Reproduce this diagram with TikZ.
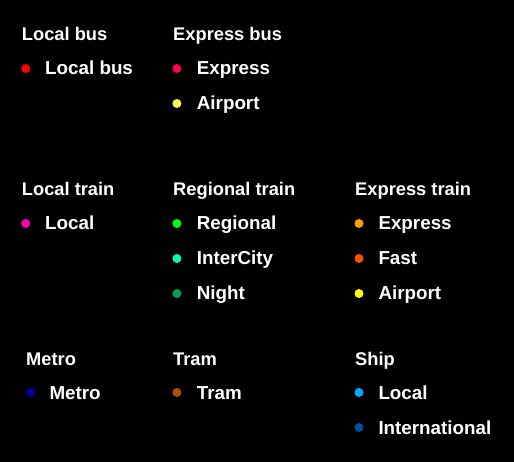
\documentclass[tikz,border=0pt]{standalone}
\usepackage{fontspec}
\setmainfont{Liberation Sans}
\usepackage{xcolor}
\usepackage{tikz}
\usetikzlibrary{positioning}
\definecolor{busred}{HTML}{FF0000}
\definecolor{busexpress}{HTML}{FF0050}
\definecolor{busairport}{HTML}{FFFF55}
\definecolor{trainlocal}{HTML}{FF00AA}
\definecolor{trainregional}{HTML}{00FF00}
\definecolor{trainic}{HTML}{00FFAA}
\definecolor{trainnight}{HTML}{00A050}
\definecolor{trainexpress}{HTML}{FFA000}
\definecolor{trainfast}{HTML}{FF5000}
\definecolor{trainairport}{HTML}{FFFF00}
\definecolor{metroblue}{HTML}{0000A0}
\definecolor{trambrown}{HTML}{B05000}
\definecolor{shiplocal}{HTML}{00AAFF}
\definecolor{shipintl}{HTML}{0050A0}

\begin{document}
\begin{tikzpicture}[
  x=1pt, y=-1pt,
  head/.style={anchor=base west, inner sep=0pt, text=white,
    font=\fontsize{18.3}{20}\selectfont\bfseries},
  item/.style={anchor=base west, inner sep=0pt, text=white,
    font=\fontsize{18.8}{20}\selectfont\bfseries},
  bullet/.style={circle, inner sep=0pt, minimum size=9pt, fill=#1}
]
  % background
  \fill[black] (0,0) rectangle (514,462);
  \useasboundingbox (0,0) rectangle (514,462);

  % buses
  \node[head] (hlocalbus) at (21.7,40.7) {Local bus};
  \node[item] (localbus) at (45,75) {Local bus};
  \node[head] (hexpressbus) at (173,40.7) {Express bus};
  \node[item] (busexp) at (196.7,75) {Express};
  \node[item] (busair) at (196.7,110) {Airport};

  % trains
  \node[head] (hlocaltrain) at (21.7,195.7) {Local train};
  \node[item] (trlocal) at (45,230) {Local};
  \node[head] (hregional) at (173,195.7) {Regional train};
  \node[item] (trreg) at (196.7,230) {Regional};
  \node[item] (tric) at (196.7,265) {InterCity};
  \node[item] (trnight) at (196.7,300) {Night};
  \node[head] (hexpresstrain) at (355,195.7) {Express train};
  \node[item] (trexp) at (378.3,230) {Express};
  \node[item] (trfast) at (378.3,265) {Fast};
  \node[item] (trair) at (378.3,300) {Airport};

  % metro, tram, ship
  \node[head] (hmetro) at (26,365) {Metro};
  \node[item] (metro) at (49.3,399) {Metro};
  \node[head] (htram) at (173,365) {Tram};
  \node[item] (tram) at (196.7,399) {Tram};
  \node[head] (hship) at (355,365) {Ship};
  \node[item] (shloc) at (378.3,399) {Local};
  \node[item] (shint) at (378.3,434) {International};

  % dots
  \node[bullet=busred] (dlocalbus) at ([xshift=-19.3pt,yshift=6.5pt]localbus.base west) {};
  \node[bullet=busexpress] (dbusexp) at ([xshift=-19.8pt,yshift=6.5pt]busexp.base west) {};
  \node[bullet=busairport] (dbusair) at ([xshift=-19.8pt,yshift=6.5pt]busair.base west) {};
  \node[bullet=trainlocal] (dtrlocal) at ([xshift=-19.3pt,yshift=6.5pt]trlocal.base west) {};
  \node[bullet=trainregional] (dtrreg) at ([xshift=-19.8pt,yshift=6.5pt]trreg.base west) {};
  \node[bullet=trainic] (dtric) at ([xshift=-19.8pt,yshift=6.5pt]tric.base west) {};
  \node[bullet=trainnight] (dtrnight) at ([xshift=-19.8pt,yshift=6.5pt]trnight.base west) {};
  \node[bullet=trainexpress] (dtrexp) at ([xshift=-19.3pt,yshift=6.5pt]trexp.base west) {};
  \node[bullet=trainfast] (dtrfast) at ([xshift=-19.3pt,yshift=6.5pt]trfast.base west) {};
  \node[bullet=trainairport] (dtrair) at ([xshift=-19.3pt,yshift=6.5pt]trair.base west) {};
  \node[bullet=metroblue] (dmetro) at ([xshift=-18.6pt,yshift=6.5pt]metro.base west) {};
  \node[bullet=trambrown] (dtram) at ([xshift=-19.8pt,yshift=6.5pt]tram.base west) {};
  \node[bullet=shiplocal] (dshloc) at ([xshift=-19.3pt,yshift=6.5pt]shloc.base west) {};
  \node[bullet=shipintl] (dshint) at ([xshift=-19.3pt,yshift=6.5pt]shint.base west) {};
\end{tikzpicture}
\end{document}
